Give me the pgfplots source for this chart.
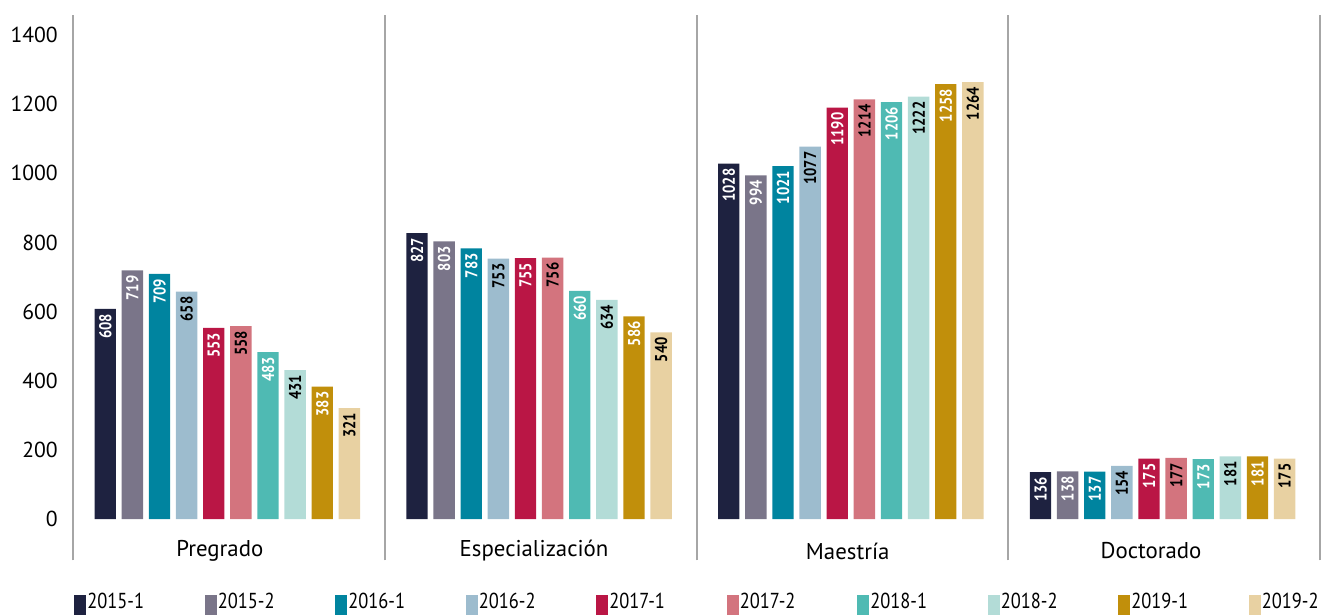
\documentclass[border=0pt]{standalone}
\usepackage{fontspec}
\setmainfont{PT Sans}
\newfontfamily\condfont{PT Sans}[FakeStretch=0.85]
\usepackage{pgfplots}
\pgfplotsset{compat=1.18}
\definecolor{cA}{HTML}{1E2240}
\definecolor{cB}{HTML}{7A7589}
\definecolor{cC}{HTML}{00849F}
\definecolor{cD}{HTML}{9DBCCE}
\definecolor{cE}{HTML}{BA1645}
\definecolor{cF}{HTML}{D3747E}
\definecolor{cG}{HTML}{4FBAB3}
\definecolor{cH}{HTML}{B3DCD7}
\definecolor{cI}{HTML}{C18F0B}
\definecolor{cJ}{HTML}{E8D1A2}
\definecolor{sep}{HTML}{A6A6A6}
\pgfplotsset{
  lbl/.style={nodes near coords, nodes near coords align={anchor=east},
    every node near coord/.append style={rotate=90, anchor=east, inner sep=2.8pt,
      font=\condfont\bfseries\fontsize{10.3}{11}\selectfont, text=#1}},
  bs/.style={ybar, bar width=0.0684, bar shift=0, draw=none},
}
\begin{document}
\begin{tikzpicture}
\begin{axis}[
  at={(0,0)}, anchor=south west,
  scale only axis, width=748.2pt, height=327.3pt,
  xmin=-0.5, xmax=3.5, ymin=-120, ymax=1458,
  axis line style={draw=none},
  xtick=\empty,
  ytick={0,200,...,1400},
  major tick length=0pt,
  yticklabel style={font=\fontsize{13}{15}\selectfont, xshift=-5.6pt},
  /pgf/number format/assume math mode=true,
  /pgf/number format/set thousands separator={},
  clip=false,
  legend columns=10,
  legend style={draw=none, fill=none, at={(0.0008,-0.0807)}, anchor=west,
    inner sep=0pt, column sep=0pt,
    font=\condfont\fontsize{13}{15}\selectfont,
    nodes={inner sep=0pt, anchor=west}},
  legend image code/.code={\fill[#1] (0pt,-8pt) rectangle (7.2pt,4.5pt);},
]
\addplot[bs, fill=cA, lbl=white] coordinates {(-0.3965,608) (0.6035,827) (1.6035,1028) (2.6035,136)};
\addlegendentry{\makebox[71.1pt][l]{\hspace{0.6pt}2015-1}}
\addplot[bs, fill=cB, lbl=white] coordinates {(-0.3095,719) (0.6905,803) (1.6905,994) (2.6905,138)};
\addlegendentry{\makebox[71.1pt][l]{\hspace{0.6pt}2015-2}}
\addplot[bs, fill=cC, lbl=white] coordinates {(-0.2225,709) (0.7775,783) (1.7775,1021) (2.7775,137)};
\addlegendentry{\makebox[71.1pt][l]{\hspace{0.6pt}2016-1}}
\addplot[bs, fill=cD, lbl=black] coordinates {(-0.1355,658) (0.8645,753) (1.8645,1077) (2.8645,154)};
\addlegendentry{\makebox[71.1pt][l]{\hspace{0.6pt}2016-2}}
\addplot[bs, fill=cE, lbl=white] coordinates {(-0.0485,553) (0.9515,755) (1.9515,1190) (2.9515,175)};
\addlegendentry{\makebox[71.1pt][l]{\hspace{0.6pt}2017-1}}
\addplot[bs, fill=cF, lbl=black] coordinates {(0.0385,558) (1.0385,756) (2.0385,1214) (3.0385,177)};
\addlegendentry{\makebox[71.1pt][l]{\hspace{0.6pt}2017-2}}
\addplot[bs, fill=cG, lbl=white] coordinates {(0.1255,483) (1.1255,660) (2.1255,1206) (3.1255,173)};
\addlegendentry{\makebox[71.1pt][l]{\hspace{0.6pt}2018-1}}
\addplot[bs, fill=cH, lbl=black] coordinates {(0.2125,431) (1.2125,634) (2.2125,1222) (3.2125,181)};
\addlegendentry{\makebox[71.1pt][l]{\hspace{0.6pt}2018-2}}
\addplot[bs, fill=cI, lbl=white] coordinates {(0.2995,383) (1.2995,586) (2.2995,1258) (3.2995,181)};
\addlegendentry{\makebox[71.1pt][l]{\hspace{0.6pt}2019-1}}
\addplot[bs, fill=cJ, lbl=black] coordinates {(0.3865,321) (1.3865,540) (2.3865,1264) (3.3865,175)};
\addlegendentry{\makebox[71.1pt][l]{\hspace{0.6pt}2019-2}}
\foreach \xx in {-0.5,0.5,1.5,2.5,3.5} {
  \edef\temp{\noexpand\draw[sep, line width=1.2pt] (axis cs:\xx,-120) -- (axis cs:\xx,1458);}
  \temp
}
\node[font=\fontsize{13.7}{15}\selectfont] at (axis cs:-0.029,-92.6) {Pregrado};
\node[font=\fontsize{13.7}{15}\selectfont] at (axis cs:0.979,-92.6) {Especialización};
\node[font=\fontsize{13.7}{15}\selectfont] at (axis cs:1.985,-92.6) {Maestría};
\node[font=\fontsize{13.7}{15}\selectfont] at (axis cs:2.958,-92.6) {Doctorado};
\end{axis}
\pgfresetboundingbox
\path (-43.8pt,-32.7pt) rectangle ++(800.4pt,369pt);
\end{tikzpicture}
\end{document}
